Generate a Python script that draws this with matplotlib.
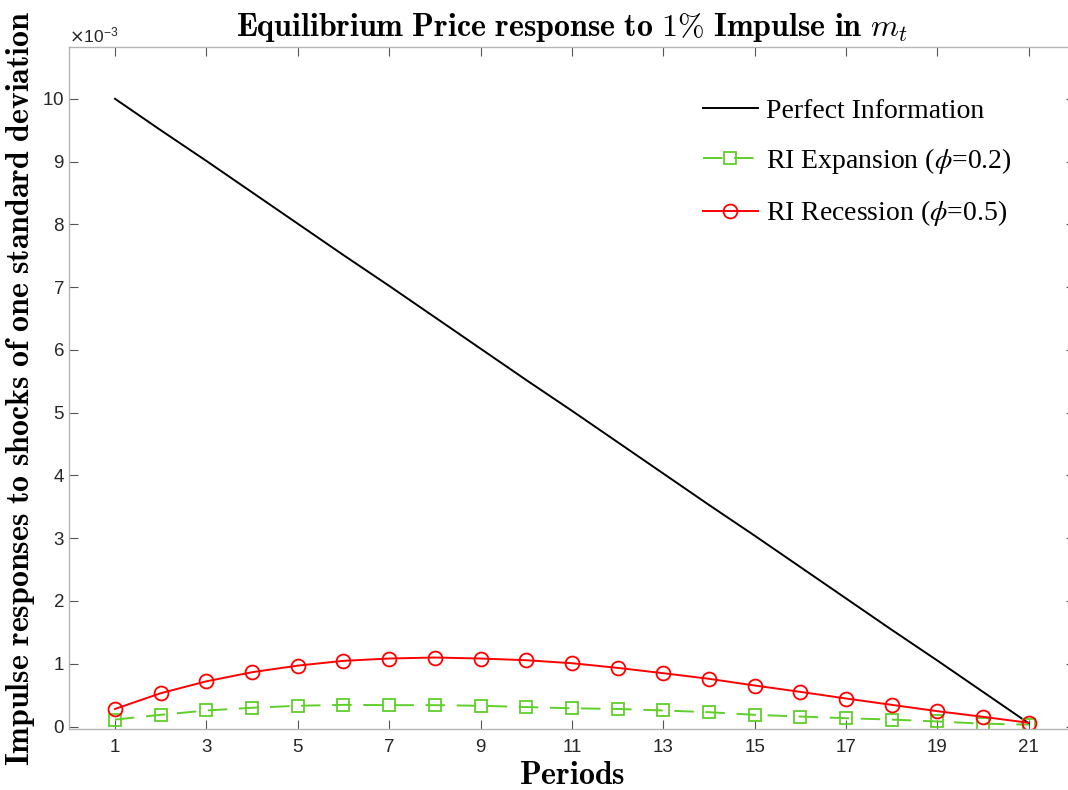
import matplotlib
matplotlib.use("Agg")
import matplotlib.pyplot as plt
from matplotlib.ticker import ScalarFormatter

periods = list(range(1, 22))
perfect_info = [10.00, 9.50, 9.01, 8.51, 8.01, 7.51, 7.02, 6.52, 6.02, 5.52, 5.03,
                4.53, 4.03, 3.53, 3.04, 2.54, 2.04, 1.54, 1.05, 0.55, 0.05]
ri_expansion = [0.11, 0.186, 0.255, 0.298, 0.33, 0.345, 0.34, 0.34, 0.33, 0.31, 0.29,
                0.28, 0.255, 0.228, 0.186, 0.159, 0.132, 0.11, 0.08, 0.045, 0.03]
ri_recession = [0.28, 0.53, 0.72, 0.865, 0.97, 1.046, 1.083, 1.099, 1.083, 1.056, 1.008,
                0.934, 0.849, 0.76, 0.653, 0.552, 0.446, 0.345, 0.244, 0.154, 0.059]
scale = 1e-3
xticks = [1, 3, 5, 7, 9, 11, 13, 15, 17, 19, 21]
yticks = [0, 1, 2, 3, 4, 5, 6, 7, 8, 9, 10]

fig = plt.figure(figsize=(10.68, 7.90), dpi=100)
ax = fig.add_axes([0.0649, 0.0772, 0.9412, 0.8637])

green = '#5fcf2b'
ax.plot(periods, [v * scale for v in perfect_info], color='black', lw=1.4,
        label='Perfect Information')
ax.plot(periods, [v * scale for v in ri_expansion], color=green, lw=1.4, ls=(0, (10, 6)),
        marker='s', ms=8, mfc='none', mec=green, mew=1.3,
        label=r'RI Expansion ($\phi$=0.2)')
ax.plot(periods, [v * scale for v in ri_recession], color='red', lw=1.4,
        marker='o', ms=10, mfc='none', mec='red', mew=1.3,
        label=r'RI Recession ($\phi$=0.5)')

ax.set_xlim(0, 22)
ax.set_ylim(-0.04e-3, 10.83e-3)
ax.set_xticks(xticks)
ax.set_yticks([v * scale for v in yticks])

fmt = ScalarFormatter(useMathText=True)
fmt.set_powerlimits((-3, -3))
ax.yaxis.set_major_formatter(fmt)
ot = ax.yaxis.get_offset_text()
ot.set_fontsize(12.5)
ot.set_color('#333333')
ot.set_family('Liberation Sans')

ax.tick_params(direction='in', length=6.5, width=0.8, color='#555555',
               labelsize=13.5, labelcolor='#262626', top=True, right=True)
ax.tick_params(axis='x', pad=7)
for lab in ax.get_xticklabels() + ax.get_yticklabels():
    lab.set_family('Liberation Sans')
for s in ax.spines.values():
    s.set_color('#b5b5b5')
    s.set_linewidth(1.0)

ax.set_title(r'$\mathbf{Equilibrium\ Price\ response\ to\ 1\%\ Impulse\ in}\ m_t$',
             fontsize=23, math_fontfamily='cm', pad=8)
ax.set_xlabel(r'$\mathbf{Periods}$', fontsize=23, math_fontfamily='cm', labelpad=3)
ax.set_ylabel(r'$\mathbf{Impulse\ responses\ to\ shocks\ of\ one\ standard\ deviation}$',
              fontsize=23, math_fontfamily='cm', labelpad=4)

leg = ax.legend(loc='upper left', frameon=False,
                prop={'family': 'Liberation Serif', 'size': 20},
                handlelength=2.0, labelspacing=0.8, handletextpad=0.3,
                borderpad=0, borderaxespad=0,
                bbox_to_anchor=(0.63, 0.924))
for t in leg.get_texts():
    t.set_math_fontfamily('stix')

fig.savefig('out.png', dpi=100)
